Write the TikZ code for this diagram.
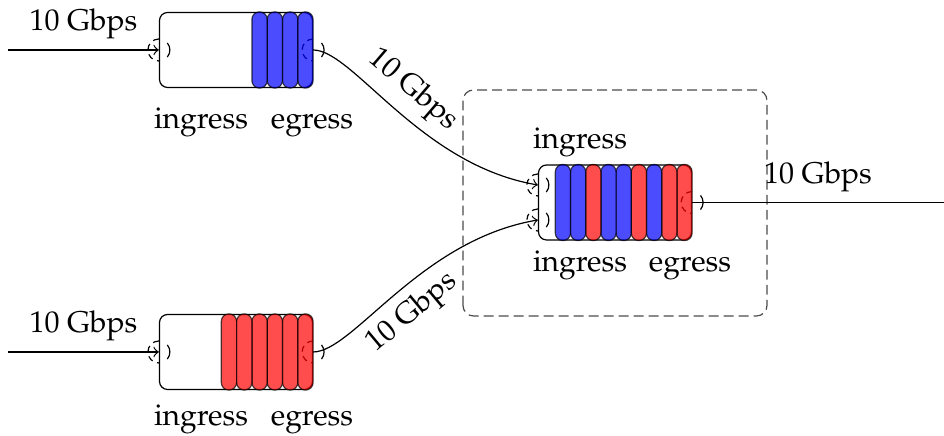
\documentclass[tikz,border=0pt]{standalone}
\usepackage[T1]{fontenc}
\usepackage{mathpazo}
\usetikzlibrary{calc}
% port symbol: dashed half ring inside, short arc outside
\def\port[#1](#2)(#3){\draw[#1,dash pattern=on 2pt off 1.6pt] ($(#2)+(90:#3)$) arc (90:270:#3); \draw[#1] ($(#2)+(-40:#3)$) arc (-40:40:#3);}
\tikzset{
  queue/.style={draw, rounded corners=2.7pt, minimum width=51pt, minimum height=25pt, inner sep=0pt},
  pkt/.style={draw, rounded corners=2.5pt, opacity=0.7},
  lbl/.style={anchor=base, inner sep=0pt},
}

\begin{document}
\begin{tikzpicture}[x=0.3333pt, y=0.3333pt]
	%%%%% START %%%%%
	\useasboundingbox (0,0) rectangle (944,436);
	
	\draw[black!70, dash pattern=on 3.3pt off 1.7pt, rounded corners=3.5pt] (463,120) rectangle (767,346);
	
	\node[queue] (q1) at (236,386) {};
	\node[queue] (q2) at (236,84) {};
	\node[queue] (q3) at (615,233.5) {};
	
	\coordinate (in1) at ($(q3.west)+(0,17.5)$);
	\coordinate (in2) at ($(q3.west)+(0,-17.5)$);
	\coordinate (src1) at (8,386);
	\coordinate (src2) at (8,84);
	\coordinate (sink) at (944,233.5);
	
	\port[black](q1.west)(11)
	\port[black](q1.east)(11)
	\port[black](q2.west)(11)
	\port[black](q2.east)(11)
	\port[black](in1)(11)
	\port[black](in2)(11)
	\port[black](q3.east)(11)
	
	% packets, counted from the egress side
	\foreach \c [count=\i from 0] in {blue,blue,blue,blue}
		\draw[pkt, fill=\c] ($(q1.north east)+(-15.3*\i,0)$) rectangle ($(q1.south east)+(-15.3*\i-15.3,0)$);
	\foreach \c [count=\i from 0] in {red,red,red,red,red,red}
		\draw[pkt, fill=\c] ($(q2.north east)+(-15.3*\i,0)$) rectangle ($(q2.south east)+(-15.3*\i-15.3,0)$);
	\foreach \c [count=\i from 0] in {red,red,blue,red,blue,blue,red,blue,blue}
		\draw[pkt, fill=\c] ($(q3.north east)+(-15.2*\i,0)$) rectangle ($(q3.south east)+(-15.2*\i-15.2,0)$);
	
	\draw[->] (src1) -- node[midway, above] {10 Gbps} (q1.west);
	\draw[->] (src2) -- node[midway, above] {10 Gbps} (q2.west);
	\draw[->] (q1.east) .. controls +(40,0) and +(-118,20) .. node[pos=0.5, sloped, above] {10 Gbps} (in1);
	\draw[->] (q2.east) .. controls +(40,0) and +(-118,-20) .. node[pos=0.5, sloped, below] {10 Gbps} (in2);
	\draw (q3.east) -- node[midway, above] {10 Gbps} (sink);
	
	\node[lbl] (q1in) at (201,307) {ingress};
	\node[lbl] (q1out) at (312,307) {egress};
	\node[lbl] (q2in) at (201,10) {ingress};
	\node[lbl] (q2out) at (312,10) {egress};
	\node[lbl] (q3top) at (580,287) {ingress};
	\node[lbl] (q3in) at (580,164) {ingress};
	\node[lbl] (q3out) at (690,164) {egress};
	
	%%%%% END %%%%%
\end{tikzpicture}
\end{document}
